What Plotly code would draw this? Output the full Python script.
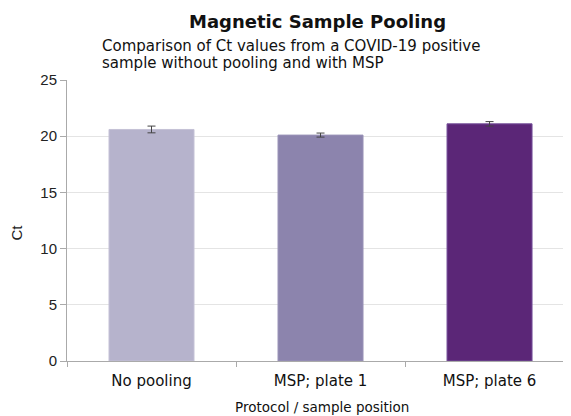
import plotly.graph_objects as go

categories = ["No pooling", "MSP; plate 1", "MSP; plate 6"]
ct_values = [20.6, 20.1, 21.1]
ct_errors = [0.3, 0.18, 0.2]
bar_colors = ["#b6b3cc", "#8c84ad", "#5b2677"]
edge_colors = ["#c4c1d6", "#9a93b8", "#75509a"]

fig = go.Figure()
fig.add_trace(go.Bar(
    x=categories, y=ct_values,
    marker=dict(color=bar_colors, line=dict(color=edge_colors, width=1)),
    width=0.503,
    error_y=dict(type="data", array=ct_errors, visible=True,
                 color="#444444", thickness=1, width=4),
))

font_v = "DejaVu Sans"
font_a = "Liberation Sans"

fig.update_layout(
    width=563, height=408,
    margin=dict(l=59, r=0, t=72, b=55),
    paper_bgcolor="white", plot_bgcolor="white",
    showlegend=False,
    xaxis=dict(
        type="category", range=[-0.5, 2.482], automargin=False,
        tickson="boundaries", ticks="outside", ticklen=5,
        tickcolor="#aaaaaa", showline=True, linecolor="#aaaaaa", linewidth=1,
        tickfont=dict(family=font_v, size=15, color="#111111"),
        ticklabelstandoff=6,
        showgrid=False,
    ),
    yaxis=dict(
        range=[0, 25], dtick=5, ticks="outside", ticklen=6, automargin=False,
        tickcolor="#aaaaaa", showline=True, linecolor="#aaaaaa", linewidth=1,
        gridcolor="#e4e4e4", zeroline=False,
        tickfont=dict(family=font_a, size=15, color="#222222"),
    ),
    annotations=[
        dict(text="<b>Magnetic Sample Pooling</b>", xref="paper", yref="paper",
             x=0.5, xshift=-2, y=1, yshift=59, xanchor="center", yanchor="middle",
             showarrow=False,
             font=dict(family=font_v, size=18, color="#111111")),
        dict(text="Comparison of Ct values from a COVID-19 positive",
             xref="paper", yref="paper", x=0, xshift=33, y=1, yshift=34,
             xanchor="left", yanchor="middle", align="left", showarrow=False,
             font=dict(family=font_v, size=15, color="#111111")),
        dict(text="sample without pooling and with MSP",
             xref="paper", yref="paper", x=0, xshift=33, y=1, yshift=17,
             xanchor="left", yanchor="middle", align="left", showarrow=False,
             font=dict(family=font_v, size=15, color="#111111")),
        dict(text="Protocol / sample position", xref="paper", yref="paper",
             x=0.5, xshift=3, y=0, yshift=-46, xanchor="center", yanchor="middle",
             showarrow=False,
             font=dict(family=font_v, size=13.5, color="#111111")),
        dict(text="Ct", xref="paper", yref="paper", textangle=-90,
             x=0, xshift=-51, y=0.5, yshift=-12, xanchor="center", yanchor="middle",
             showarrow=False,
             font=dict(family=font_a, size=15, color="#222222")),
    ],
)

fig.write_html("out.html")
